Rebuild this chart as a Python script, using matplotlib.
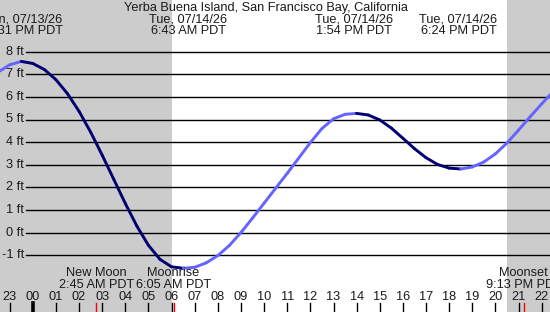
import matplotlib
matplotlib.use('Agg')
import matplotlib.pyplot as plt
import numpy as np

plt.rcParams['font.family'] = ['Liberation Sans', 'DejaVu Sans']

# hours since midnight Tue 07/14/26, tide height in ft (read every half hour)
hours = np.arange(-1.5, 23.0, 0.5)
height = [7.10, 7.42, 7.57, 7.48, 7.21, 6.76, 6.14, 5.36, 4.44, 3.42,
          2.35, 1.28, 0.28, -0.57, -1.19, -1.52, -1.58, -1.54, -1.34, -1.02,
          -0.57, 0.00, 0.64, 1.30, 1.96, 2.62, 3.30, 3.98, 4.60, 5.03,
          5.23, 5.27, 5.20, 4.98, 4.62, 4.17, 3.71, 3.31, 3.01, 2.85,
          2.81, 2.90, 3.12, 3.48, 3.96, 4.53, 5.12, 5.69, 6.24]

title = 'Yerba Buena Island, San Francisco Bay, California'
# high / low tide labels along the top
tide_h = [-0.48, 6.72, 13.9, 18.4]
tide_date = ['Mon, 07/13/26', 'Tue, 07/14/26', 'Tue, 07/14/26', 'Tue, 07/14/26']
tide_time = ['11:31 PM PDT', '6:43 AM PDT', '1:54 PM PDT', '6:24 PM PDT']

# moon events along the bottom
moon_h = [2.75, 6.083, 21.217]
moon_name = ['New Moon', 'Moonrise', 'Moonset']
moon_time = ['2:45 AM PDT', '6:05 AM PDT', '9:13 PM PDT']

sunrise = 6.0
sunset = 20.5
hour_ticks = list(range(-1, 23))
hour_labels = ['%02d' % (h % 24) for h in hour_ticks]
ft_levels = list(range(-1, 9))

W, H = 550, 312
x0, x1 = -1.42, 22.36
fig = plt.figure(figsize=(W / 100, H / 100), dpi=100)
ax = fig.add_axes([0, 0, 1, 1])
ax.set_xlim(x0, x1)
# 8 ft at 51.7 px from top, 22.6 px per ft
ax.set_ylim(8 - (H - 51.7) / 22.6, 8 + 51.7 / 22.6)
ax.axis('off')

def ypx(p):
    return 1 - p / H

bx = ax.get_xaxis_transform()  # x data, y axes
by = ax.get_yaxis_transform()  # x axes, y data
fs = 9.2
tc = '#1a1a1a'

# night shading
ax.axvspan(x0, sunrise, color='#cccccc', lw=0, zorder=0)
ax.axvspan(sunset, x1, color='#cccccc', lw=0, zorder=0)

# height lines and labels
for v in ft_levels:
    ax.axhline(v, xmin=26 / W, xmax=1, color='black', lw=1.0, zorder=1)
    ax.text(24 / W, v, '%d ft' % v, transform=by, ha='right', va='center',
            fontsize=fs, color=tc)

# tide curve: dark when falling, light when rising
hgt = np.array(height)
for i in range(len(hours) - 1):
    c = '#000070' if hgt[i + 1] < hgt[i] else '#6464ff'
    ax.plot(hours[i:i + 2], hgt[i:i + 2], color=c, lw=2.1,
            solid_capstyle='round', solid_joinstyle='round', zorder=3)

# top texts
ax.text(265.5 / W, ypx(7.5), title, transform=ax.transAxes, ha='center',
        va='center', fontsize=fs, color=tc)
for h, d, t in zip(tide_h, tide_date, tide_time):
    ax.text(h, ypx(19.5), d, transform=bx, ha='center', va='center',
            fontsize=fs, color=tc)
    ax.text(h, ypx(31), t, transform=bx, ha='center', va='center',
            fontsize=fs, color=tc)

# moon events
for h, n, t in zip(moon_h, moon_name, moon_time):
    ax.text(h, ypx(273.5), n, transform=bx, ha='center', va='center',
            fontsize=fs, color=tc)
    ax.text(h, ypx(284.5), t, transform=bx, ha='center', va='center',
            fontsize=fs, color=tc)
    ax.plot([h, h], [ypx(303), ypx(312)], transform=bx, color='red',
            lw=1.0, zorder=4)

# hour axis
for h, lab in zip(hour_ticks, hour_labels):
    ax.text(h, ypx(297.5), lab, transform=bx, ha='center', va='center',
            fontsize=fs, color=tc)
    ax.plot([h, h], [ypx(303), ypx(312)], transform=bx, color='black',
            lw=2.6 if h == 0 else 1.0, zorder=4)

fig.savefig('out.png', dpi=100)
